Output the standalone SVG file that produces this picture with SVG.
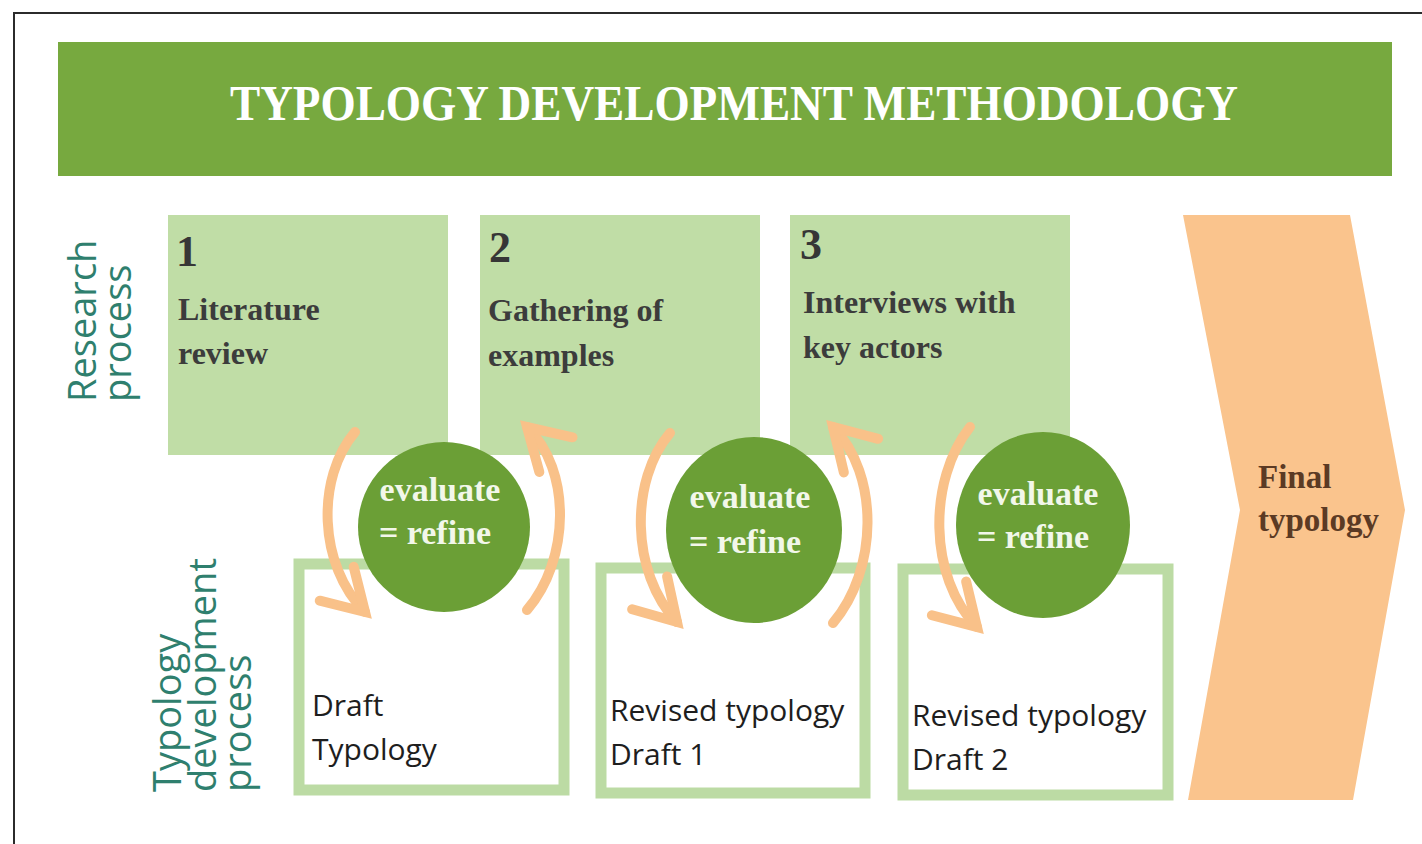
<svg xmlns="http://www.w3.org/2000/svg" width="1422" height="844" viewBox="0 0 1422 844">
<style>
.bg{fill:#ffffff}
.frame{fill:none;stroke:#2b2b2b;stroke-width:2}
.header{fill:#77A93F}
.title{font-family:"Liberation Serif",serif;font-weight:bold;font-size:50px;fill:#ffffff}
.side{font-family:"Open Sans","Liberation Sans",sans-serif;font-size:38px;fill:#2F7F6E}
.step{fill:#C0DDA6}
.num{font-family:"Liberation Serif",serif;font-weight:bold;font-size:44px;fill:#363636}
.stxt{font-family:"Liberation Serif",serif;font-weight:bold;font-size:32px;fill:#3C3C3C}
.draft{fill:#ffffff;stroke:#BCDBA4;stroke-width:11}
.dtxt{font-family:"Open Sans","Liberation Sans",sans-serif;font-size:30px;fill:#1E1E1E}
.eval{fill:#6B9F36}
.etxt{font-family:"Liberation Serif",serif;font-weight:bold;font-size:34px;fill:#F2F7EA;text-anchor:middle}
.arr{fill:none;stroke:#F9C189;stroke-width:10;stroke-linecap:round}
.final{fill:#FAC48D}
.ftxt{font-family:"Liberation Serif",serif;font-weight:bold;font-size:33px;fill:#5B3A24}
</style>
<defs>
<marker id="head" markerUnits="userSpaceOnUse" viewBox="-50 -35 60 70" markerWidth="60" markerHeight="70" refX="0" refY="0" orient="auto">
<path d="M-40,-24 L0,0 L-40,24" fill="none" stroke="#F9C189" stroke-width="10" stroke-linecap="round" stroke-linejoin="miter"/>
</marker>
</defs>
<rect class="bg" x="0" y="0" width="1422" height="844"/>
<rect class="frame" x="14" y="13" width="1420" height="850"/>

<g id="header">
<rect class="header" x="58" y="42" width="1334" height="134"/>
<text class="title" x="230" y="120" textLength="1008" lengthAdjust="spacingAndGlyphs">TYPOLOGY DEVELOPMENT METHODOLOGY</text>
</g>

<g id="label-research">
<text class="side" transform="translate(96,402) rotate(-90)">Research</text>
<text class="side" transform="translate(131,402) rotate(-90)">process</text>
</g>
<g id="label-typology">
<text class="side" transform="translate(181,792) rotate(-90)">Typology</text>
<text class="side" transform="translate(216,792) rotate(-90)">development</text>
<text class="side" transform="translate(251,792) rotate(-90)">process</text>
</g>

<g id="step1">
<rect class="step" x="168" y="215" width="280" height="240"/>
<text class="num" x="176" y="266">1</text>
<text class="stxt" x="178" y="320">Literature</text>
<text class="stxt" x="178" y="364">review</text>
</g>
<g id="step2">
<rect class="step" x="480" y="215" width="280" height="240"/>
<text class="num" x="489" y="262">2</text>
<text class="stxt" x="488" y="321">Gathering of</text>
<text class="stxt" x="488" y="366">examples</text>
</g>
<g id="step3">
<rect class="step" x="790" y="215" width="280" height="240"/>
<text class="num" x="800" y="259">3</text>
<text class="stxt" x="803" y="313">Interviews with</text>
<text class="stxt" x="803" y="358">key actors</text>
</g>

<g id="draft0">
<rect class="draft" x="299" y="564" width="265" height="226"/>
<text class="dtxt" x="312" y="716">Draft</text>
<text class="dtxt" x="312" y="760">Typology</text>
</g>
<g id="draft1">
<rect class="draft" x="601" y="568" width="264" height="225"/>
<text class="dtxt" x="610" y="721">Revised typology</text>
<text class="dtxt" x="610" y="765">Draft 1</text>
</g>
<g id="draft2">
<rect class="draft" x="903" y="569" width="265" height="226"/>
<text class="dtxt" x="912" y="726">Revised typology</text>
<text class="dtxt" x="912" y="770">Draft 2</text>
</g>

<g id="eval1">
<ellipse class="eval" cx="444" cy="527" rx="86" ry="85"/>
<text class="etxt" x="440" y="501">evaluate</text>
<text class="etxt" x="435" y="544">= refine</text>
</g>
<g id="eval2">
<ellipse class="eval" cx="754" cy="530" rx="88" ry="93"/>
<text class="etxt" x="750" y="508">evaluate</text>
<text class="etxt" x="745" y="553">= refine</text>
</g>
<g id="eval3">
<ellipse class="eval" cx="1043" cy="525" rx="87" ry="93"/>
<text class="etxt" x="1038" y="505">evaluate</text>
<text class="etxt" x="1033" y="548">= refine</text>
</g>

<g id="connectors">
<path class="arr" d="M355,432 C316,478 318,565 365,612" marker-end="url(#head)"/>
<path class="arr" d="M527,610 C570,560 572,470 527,427" marker-end="url(#head)"/>
<path class="arr" d="M670,433 C630,480 630,572 677,622" marker-end="url(#head)"/>
<path class="arr" d="M833,623 C878,570 880,475 833,427" marker-end="url(#head)"/>
<path class="arr" d="M970,427 C928,480 928,577 977,627" marker-end="url(#head)"/>
</g>

<g id="final">
<polygon class="final" points="1183,215 1350,215 1405,510 1353,800 1188,800 1240,510"/>
<text class="ftxt" x="1258" y="488">Final</text>
<text class="ftxt" x="1258" y="531">typology</text>
</g>
</svg>
